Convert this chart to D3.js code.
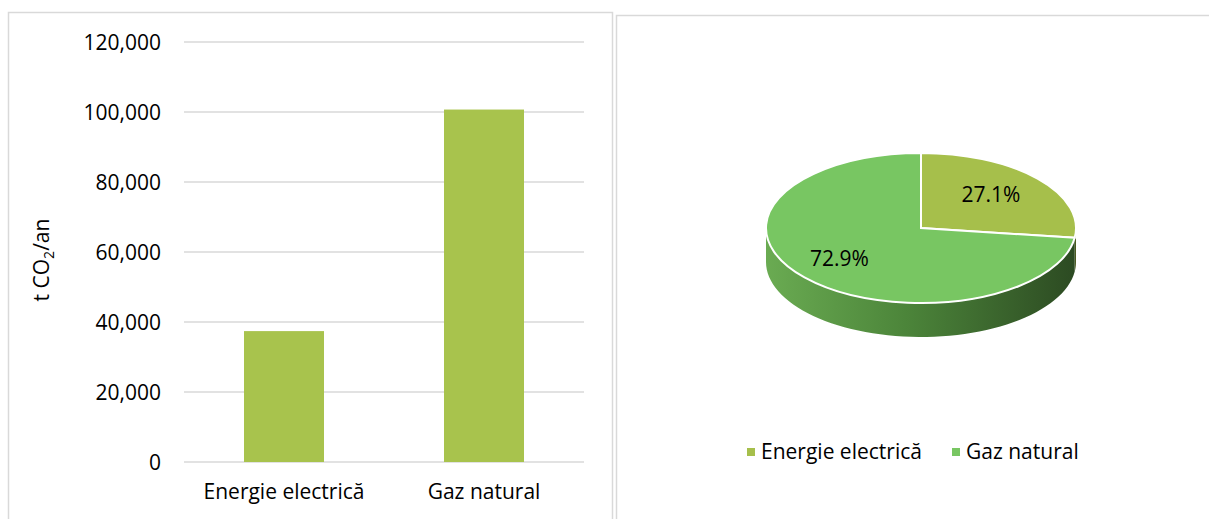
<!DOCTYPE html>
<html>
<head>
<meta charset="utf-8">
<script src="https://cdn.jsdelivr.net/npm/d3@7/dist/d3.min.js"></script>
<style>
  html, body { margin: 0; padding: 0; background: #fff; }
  svg { display: block; font-family: "Open Sans", "Noto Sans", sans-serif; }
</style>
</head>
<body>
<svg id="chart" width="1209" height="519"></svg>
<script>
// ---- data ----
const categories = ["Energie electrică", "Gaz natural"];
const values = [37400, 100700];
const yTicks = [0, 20000, 40000, 60000, 80000, 100000, 120000];
const yTitle = "t CO";
const yTitleSub = "2";
const yTitleEnd = "/an";
const barColor = "#a8c34d";
const pieColors = ["#a6bf4b", "#78c662"];

const svg = d3.select("#chart");
const fontSize = 21;

// ---- panel borders ----
svg.append("rect").attr("x", 8.5).attr("y", 12.5).attr("width", 604).attr("height", 540)
  .attr("fill", "none").attr("stroke", "#d9d9d9").attr("stroke-width", 1.5);
svg.append("rect").attr("x", 616.5).attr("y", 15.5).attr("width", 640).attr("height", 540)
  .attr("fill", "none").attr("stroke", "#d9d9d9").attr("stroke-width", 1.5);

// ---- bar chart ----
const plot = { left: 184, right: 584, top: 42, bottom: 462 };
const x = d3.scaleBand().domain(categories).range([plot.left, plot.right]).paddingInner(0.6).paddingOuter(0.3);
const y = d3.scaleLinear().domain([0, 120000]).range([plot.bottom, plot.top]);

const grid = svg.append("g");
grid.selectAll("line").data(yTicks).join("line")
  .attr("x1", plot.left).attr("x2", plot.right)
  .attr("y1", d => y(d)).attr("y2", d => y(d))
  .attr("stroke", "#d9d9d9").attr("stroke-width", 1.5);

const yAxis = d3.axisLeft(y).tickValues(yTicks).tickFormat(d3.format(",")).tickSize(0).tickPadding(0);
const yG = svg.append("g").attr("transform", `translate(${plot.left - 23},0)`).call(yAxis);
yG.select(".domain").remove();
yG.selectAll("text").attr("font-size", fontSize).attr("fill", "#000")
  .attr("font-family", "'Open Sans', sans-serif").attr("dy", "0.35em");

svg.append("g").selectAll("rect").data(values).join("rect")
  .attr("x", (d, i) => x(categories[i]))
  .attr("width", x.bandwidth())
  .attr("y", d => y(d))
  .attr("height", d => y(0) - y(d))
  .attr("fill", barColor);

const xAxis = d3.axisBottom(x).tickSize(0).tickPadding(0);
const xG = svg.append("g").attr("transform", `translate(0,${plot.bottom + 30})`).call(xAxis);
xG.select(".domain").remove();
xG.selectAll("text").attr("font-size", fontSize).attr("fill", "#000")
  .attr("font-family", "'Open Sans', sans-serif").attr("dy", "0.35em");

// y axis title
const yt = svg.append("text")
  .attr("transform", "translate(49,260) rotate(-90)")
  .attr("text-anchor", "middle")
  .attr("font-size", fontSize).attr("fill", "#000");
yt.append("tspan").text(yTitle);
yt.append("tspan").text(yTitleSub).attr("font-size", 14).attr("dy", 5);
yt.append("tspan").text(yTitleEnd).attr("dy", -5);

// ---- 3D pie chart ----
const cx = 921, cy = 228, rx = 155, ry = 75, depth = 34;
const k = ry / rx;
const pie = d3.pie().sort(null).value(d => d);
const arcs = pie(values);
const total = d3.sum(values);

const defs = svg.append("defs");
const grad = defs.append("linearGradient").attr("id", "sideGrad")
  .attr("gradientUnits", "userSpaceOnUse")
  .attr("x1", cx - rx).attr("x2", cx + rx).attr("y1", 0).attr("y2", 0);
grad.append("stop").attr("offset", "0%").attr("stop-color", "#6aab52");
grad.append("stop").attr("offset", "45%").attr("stop-color", "#4c853a");
grad.append("stop").attr("offset", "100%").attr("stop-color", "#2c4a22");
const grad2 = defs.append("linearGradient").attr("id", "sideGrad2")
  .attr("gradientUnits", "userSpaceOnUse")
  .attr("x1", cx - rx).attr("x2", cx + rx).attr("y1", 0).attr("y2", 0);
grad2.append("stop").attr("offset", "0%").attr("stop-color", "#8ea23f");
grad2.append("stop").attr("offset", "100%").attr("stop-color", "#4a5a20");

function pt(a, dy) {
  return [cx + rx * Math.sin(a), cy - ry * Math.cos(a) + (dy || 0)];
}
function sidePath(a0, a1) {
  const s = Math.max(a0, Math.PI / 2), e = Math.min(a1, 3 * Math.PI / 2);
  if (e <= s) return null;
  const n = 60, top = [], bot = [];
  for (let i = 0; i <= n; i++) {
    const a = s + (e - s) * i / n;
    top.push(pt(a, 0));
    bot.push(pt(a, depth));
  }
  return "M" + top.map(p => p.join(",")).join("L") + "L" + bot.reverse().map(p => p.join(",")).join("L") + "Z";
}

const pieG = svg.append("g");
arcs.forEach((a, i) => {
  const p = sidePath(a.startAngle, a.endAngle);
  if (p) pieG.append("path").attr("d", p).attr("fill", i === 0 ? "url(#sideGrad2)" : "url(#sideGrad)");
});

const arcGen = d3.arc().innerRadius(0).outerRadius(rx);
const topG = pieG.append("g").attr("transform", `translate(${cx},${cy}) scale(1,${k})`);
topG.selectAll("path").data(arcs).join("path")
  .attr("d", arcGen)
  .attr("fill", (d, i) => pieColors[i])
  .attr("stroke", "#fff").attr("stroke-width", 2)
  .attr("vector-effect", "non-scaling-stroke");

const fmt = d3.format(".1%");
const lblR = [0.6, 0.7];
pieG.selectAll("text.lbl").data(arcs).join("text").attr("class", "lbl")
  .attr("x", (d, i) => { const m = (d.startAngle + d.endAngle) / 2; return cx + rx * lblR[i] * Math.sin(m); })
  .attr("y", (d, i) => { const m = (d.startAngle + d.endAngle) / 2; return cy - ry * lblR[i] * Math.cos(m) - 4; })
  .attr("text-anchor", "middle").attr("dy", "0.35em")
  .attr("font-size", fontSize).attr("fill", "#000")
  .text(d => fmt(d.value / total));

// legend
const legendX = [747, 952];
const leg = svg.append("g");
categories.forEach((c, i) => {
  leg.append("rect").attr("x", legendX[i]).attr("y", 448).attr("width", 8).attr("height", 8)
    .attr("fill", pieColors[i]);
  leg.append("text").attr("x", legendX[i] + 14).attr("y", 452).attr("dy", "0.35em")
    .attr("font-size", fontSize).attr("fill", "#000").text(c);
});
</script>
</body>
</html>
